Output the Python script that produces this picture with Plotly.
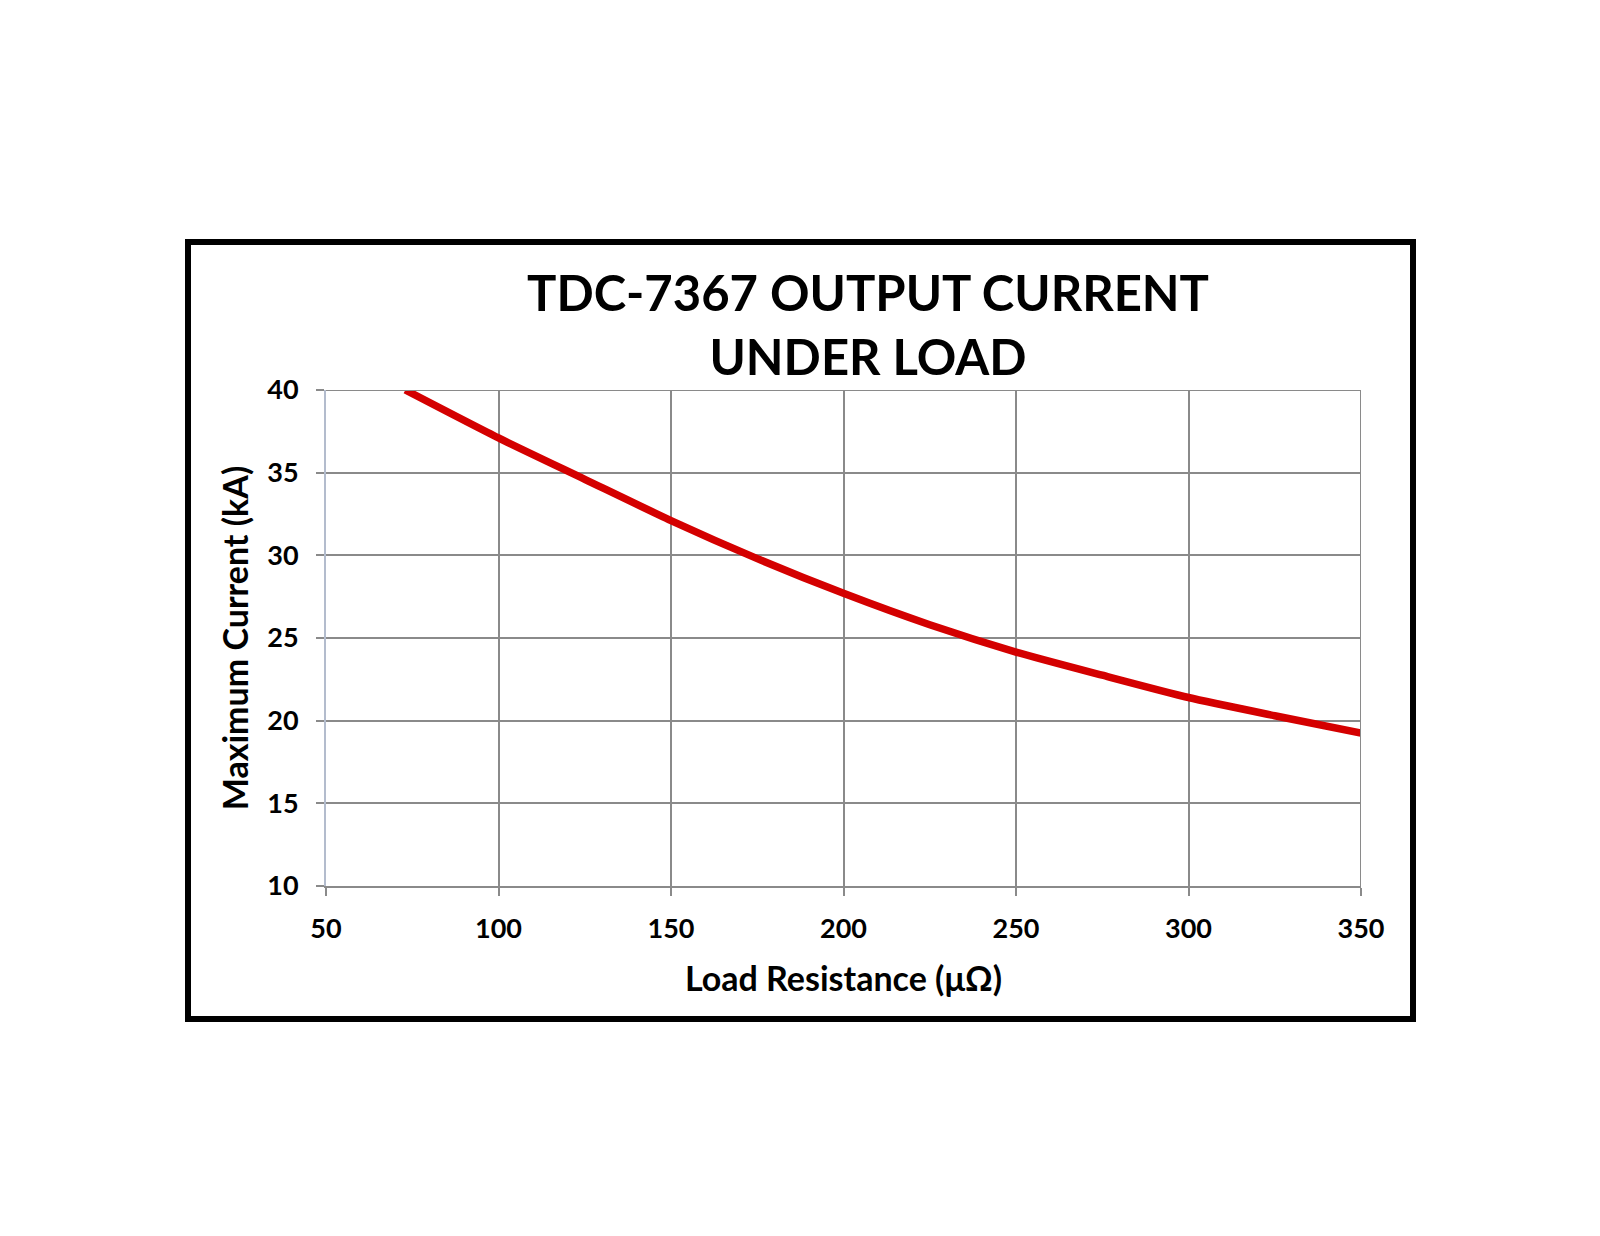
import plotly.graph_objects as go

# Values
load_resistance = [73, 100, 125, 150, 175, 200, 225, 250, 275, 300, 325, 350]  # micro-ohm
max_current = [40.0, 37.1, 34.6, 32.1, 29.8, 27.7, 25.8, 24.15, 22.75, 21.4, 20.3, 19.25]  # kA

x_ticks = [50, 100, 150, 200, 250, 300, 350]
y_ticks = [10, 15, 20, 25, 30, 35, 40]

title_text = "TDC-7367 OUTPUT CURRENT<br>UNDER LOAD"
x_title = "Load Resistance (\u03bc\u03a9)"
y_title = "Maximum Current (kA)"

FONT = "Lato, 'Open Sans', sans-serif"
GRID = "#8a8a8a"

# plot area in pixels (1600x1236 page)
L, R, T, B = 318, 1353, 382, 878
W, H = 1600, 1236


def px_x(p):
    return (p - L) / (R - L)


def px_y(p):
    return (B - p) / (B - T)


fig = go.Figure()

fig.add_trace(go.Scatter(x=load_resistance, y=max_current,
                         mode="lines",
                         line=dict(color="#d40000", width=7.5, shape="spline", smoothing=0.6),
                         hoverinfo="x+y",
                         showlegend=False))

fig.update_layout(width=W, height=H,
                  margin=dict(l=L, r=W - R, t=T, b=H - B),
                  paper_bgcolor="white",
                  plot_bgcolor="white",
                  font=dict(family=FONT, color="black"))

fig.update_xaxes(range=[50, 350],
                 tickvals=x_ticks,
                 ticks="outside", ticklen=8, tickwidth=2, tickcolor=GRID,
                 ticklabelstandoff=10,
                 tickfont=dict(size=27, family=FONT, weight="bold"),
                 showgrid=True, gridcolor=GRID, gridwidth=2,
                 showline=True, linecolor=GRID, linewidth=2,
                 zeroline=False,
                 title=dict(text=x_title, standoff=24,
                            font=dict(size=34, family=FONT, weight="bold")))

fig.update_yaxes(range=[10, 40],
                 tickvals=y_ticks,
                 ticks="outside", ticklen=8, tickwidth=2, tickcolor=GRID,
                 ticklabelstandoff=12,
                 tickfont=dict(size=27, family=FONT, weight="bold"),
                 showgrid=True, gridcolor=GRID, gridwidth=2,
                 showline=True, linecolor="#b3bccd", linewidth=2,
                 mirror=False,
                 zeroline=False,
                 title=dict(text=y_title, standoff=8,
                            font=dict(size=34, family=FONT, weight="bold")))

# right edge and top edge of the grid
fig.add_shape(type="line", xref="x", yref="paper", x0=350, x1=350, y0=0, y1=1,
              line=dict(color=GRID, width=2))
fig.add_shape(type="line", xref="paper", yref="y", x0=0, x1=1, y0=40, y1=40,
              line=dict(color=GRID, width=2))

# heavy black frame round the whole chart
fig.add_shape(type="rect", xref="paper", yref="paper",
              x0=px_x(180), x1=px_x(1405), y0=px_y(1011), y1=px_y(234),
              line=dict(color="black", width=6), fillcolor="rgba(0,0,0,0)", layer="below")

fig.add_annotation(text=title_text, xref="paper", yref="paper",
                   x=px_x(860), y=px_y(316), xanchor="center", yanchor="middle",
                   showarrow=False,
                   font=dict(size=49, family=FONT, weight="bold", color="black"))

fig.write_html("out.html")
